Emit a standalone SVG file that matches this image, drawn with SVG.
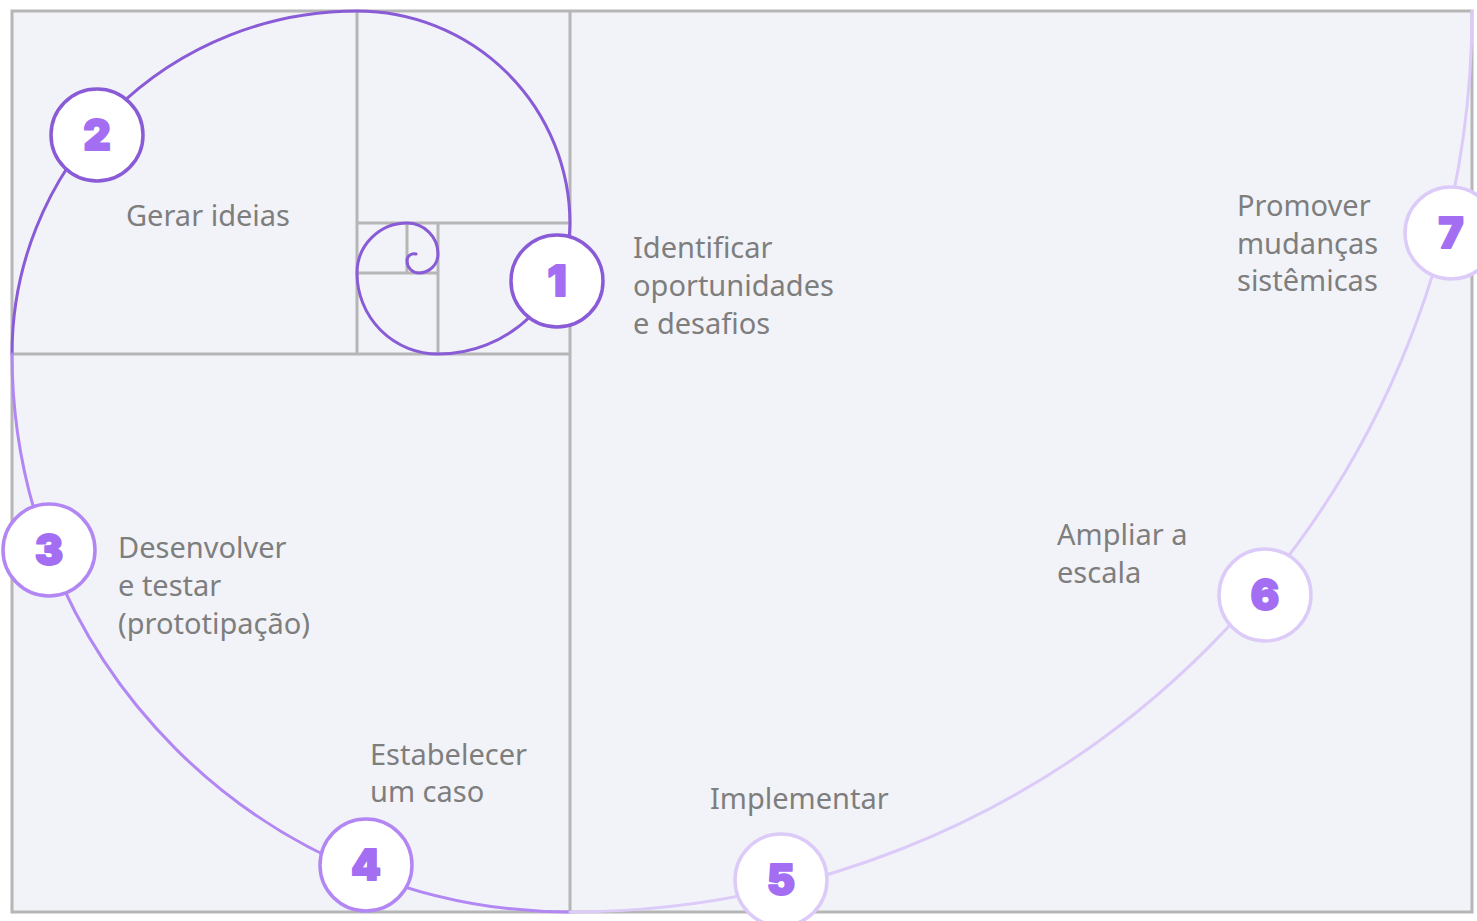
<svg xmlns="http://www.w3.org/2000/svg" width="1477" height="921" viewBox="0 0 1477 921">
  <style>
    .grid { stroke: #b6b6b6; stroke-width: 3; fill: none; }
    .frame { stroke: #b6b6b6; stroke-width: 3; fill: #f2f3f8; }
    .sp { fill: none; stroke-width: 3; stroke-linecap: round; }
    .dark { stroke: #8a5bd6; }
    .mid { stroke: #b287f4; }
    .light { stroke: #dccbf8; }
    .badge { fill: #ffffff; stroke-width: 3.5; }
    .num { font-family: Inter, "DejaVu Sans", sans-serif; font-weight: 900; font-size: 42px; fill: #a46ef2; stroke: #a46ef2; stroke-width: 2; stroke-linejoin: round; text-anchor: middle; }
    .lbl { font-family: "Noto Sans", "Open Sans", sans-serif; font-size: 29px; fill: #7e7e7e; }
  </style>
  <rect x="0" y="0" width="1477" height="921" fill="#ffffff"/>
  <rect class="frame" x="12" y="11" width="1460" height="901"/>
  <g id="grid">
    <line class="grid" x1="570" y1="11" x2="570" y2="912"/>
    <line class="grid" x1="12" y1="354" x2="570" y2="354"/>
    <line class="grid" x1="357" y1="11" x2="357" y2="354"/>
    <line class="grid" x1="357" y1="223" x2="570" y2="223"/>
    <line class="grid" x1="438" y1="223" x2="438" y2="354"/>
    <line class="grid" x1="357" y1="273" x2="438" y2="273"/>
    <line class="grid" x1="407" y1="223" x2="407" y2="273"/>
  </g>
  <g id="connectors">
    <path class="sp dark" d="M 416 254 A 7 7 0 0 0 407 261 A 12 12 0 0 0 419 273 A 19 19 0 0 0 438 254 A 31 31 0 0 0 407 223 A 50 50 0 0 0 357 273 A 81 81 0 0 0 438 354 A 132 132 0 0 0 570 223 A 213 213 0 0 0 357 11 A 345 343 0 0 0 12 354"/>
    <path class="sp mid" d="M 12 354 A 558 558 0 0 0 570 912"/>
    <path class="sp light" d="M 570 912 A 902 901 0 0 0 1472 11"/>
  </g>
  <g id="node1">
    <circle class="badge dark" cx="557" cy="281" r="46"/>
    <text class="num" x="557" y="296">1</text>
    <text class="lbl" x="633" y="258">Identificar</text>
    <text class="lbl" x="633" y="296">oportunidades</text>
    <text class="lbl" x="633" y="334">e desafios</text>
  </g>
  <g id="node2">
    <circle class="badge dark" cx="97" cy="135" r="46"/>
    <text class="num" x="97" y="150">2</text>
    <text class="lbl" x="126" y="226">Gerar ideias</text>
  </g>
  <g id="node3">
    <circle class="badge mid" cx="49" cy="550" r="46"/>
    <text class="num" x="49" y="565">3</text>
    <text class="lbl" x="118" y="558">Desenvolver</text>
    <text class="lbl" x="118" y="596">e testar</text>
    <text class="lbl" x="118" y="634">(prototipação)</text>
  </g>
  <g id="node4">
    <circle class="badge mid" cx="366" cy="865" r="46"/>
    <text class="num" x="366" y="880">4</text>
    <text class="lbl" x="370" y="765">Estabelecer</text>
    <text class="lbl" x="370" y="802">um caso</text>
  </g>
  <g id="node5">
    <circle class="badge light" cx="781" cy="880" r="46"/>
    <text class="num" x="781" y="895">5</text>
    <text class="lbl" x="710" y="809">Implementar</text>
  </g>
  <g id="node6">
    <circle class="badge light" cx="1265" cy="595" r="46"/>
    <text class="num" x="1265" y="610">6</text>
    <text class="lbl" x="1057" y="545">Ampliar a</text>
    <text class="lbl" x="1057" y="583">escala</text>
  </g>
  <g id="node7">
    <circle class="badge light" cx="1451" cy="233" r="46"/>
    <text class="num" x="1451" y="248">7</text>
    <text class="lbl" x="1237" y="216">Promover</text>
    <text class="lbl" x="1237" y="254">mudanças</text>
    <text class="lbl" x="1237" y="291">sistêmicas</text>
  </g>
</svg>
